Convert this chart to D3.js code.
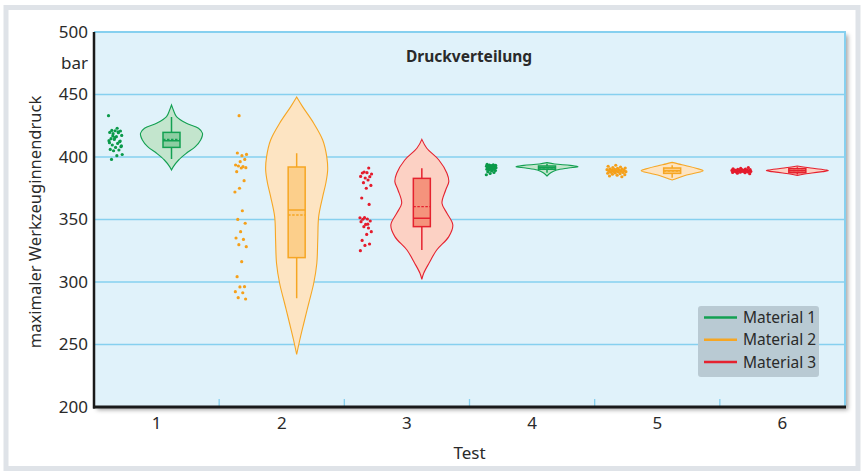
<!DOCTYPE html>
<html><head><meta charset="utf-8">
<script src="https://cdn.jsdelivr.net/npm/d3@7"></script>
<style>body{margin:0;background:#fff}svg{display:block;font-family:"Noto Sans",sans-serif}</style>
</head><body><svg id="c" width="862" height="471"></svg>
<script>
// ---------- data ----------
const tests = ["1","2","3","4","5","6"];
const materials = ["Material 1","Material 2","Material 3"];
const testMaterial = [0,1,2,0,1,2];
const yTicks = [200,250,300,350,400,450,475,500];
const yTickLabels = ["200","250","300","350","400","450","bar","500"];
const gridValues = [250,300,350,400,450];

const points1 = [433.1,423,421.3,420.8,421,419.7,419.5,418.7,417.3,416.3,414.7,412.3,414.1,413.1,410.9,409.6,408.3,407.7,406.1,405.6,405,402,401.1,398.1,412.8,415.5,411.5,420.2,416.9,408.9];
const points2 = [433.1,402.1,401.1,403.2,398.1,396.3,393.6,392.3,392.8,391.5,391.2,388.3,381.1,375,372,357,350.1,347,340.3,335.2,334.1,329.9,328.3,316.3,304.3,296.3,296.1,292.3,291.4,287.5,286.4];
const points3 = [391.2,388,386.4,387.5,387.2,384.3,383.2,384.5,381.6,379.5,377.3,375,367.2,362.1,351.5,351.4,350.4,350.2,348.8,346.1,348.3,343.2,344.3,340.3,338.1,333.3,330.4,329.3,325.1,346.3];
const points4 = [394.1,393.8,393.6,393.4,393.2,393.1,393.0,392.8,392.7,392.6,392.5,392.4,392.2,392.0,391.9,391.7,391.5,391.3,391.1,390.9,390.6,390.3,390.0,389.6,389.2,388.8,388.3,387.6,386.8,385.8];
const points5 = [393.4,392.6,392.0,391.6,391.2,390.9,390.6,390.3,390.1,389.9,389.7,389.5,389.3,389.1,388.9,388.7,388.5,388.3,388.1,387.9,387.6,387.3,387.0,386.7,386.3,385.9,385.4,384.8,384.2,389.0];
const points6 = [391.6,391.0,390.6,390.3,390.1,389.9,389.8,389.6,389.5,389.4,389.3,389.2,389.1,389.0,388.9,388.8,388.7,388.6,388.5,388.4,388.3,388.1,387.9,387.7,387.4,387.1,386.7,389.0,389.2,388.8];
const pointSets = [points1,points2,points3,points4,points5,points6];

// violin outlines: pressure levels and relative density (1 = widest)
const violinLevels1 = [441.6,437.6,432.3,427,423,419,413.6,408.3,403,397.6,392.3,389.6];
const violinDensity1 = [0,0.06,0.16,0.48,0.87,1,0.94,0.77,0.48,0.23,0.06,0];
const violinLevels2 = [448,440.3,427,413.6,400.3,389.6,379,368.3,352.3,333.6,315,299,283,267,253.6,242];
const violinDensity2 = [0,0.19,0.55,0.84,0.97,1,0.94,0.84,0.71,0.68,0.65,0.55,0.39,0.23,0.1,0];
const violinLevels3 = [414.1,407,397.6,387,380.3,373.6,363,355,345.6,336.3,325.6,315,307,302.1];
const violinDensity3 = [0,0.16,0.55,0.81,0.87,0.77,0.65,0.81,1,0.87,0.48,0.23,0.06,0];
const violinLevels4 = [395.5,394.4,393.3,392.3,391.2,389.6,387.4,384.8];
const violinDensity4 = [0,0.25,0.75,1,0.69,0.31,0.12,0];
const violinLevels5 = [395.7,394.5,393,391,389,387,385,383,381.6];
const violinDensity5 = [0,0.19,0.45,0.77,1,0.71,0.39,0.16,0];
const violinLevels6 = [392.8,391.8,390.8,389.5,389,388.3,387.2,386.2,385.3];
const violinDensity6 = [0,0.25,0.56,0.94,1,0.81,0.47,0.19,0];
const violinLevels = [violinLevels1,violinLevels2,violinLevels3,violinLevels4,violinLevels5,violinLevels6];
const violinDensity = [violinDensity1,violinDensity2,violinDensity3,violinDensity4,violinDensity5,violinDensity6];

// box statistics
const quartile1 = [407.7,319.5,344.3,390.2,386.9,387.4];
const medians   = [413,357.6,351,391.5,389,389];
const quartile3 = [419.7,392,382.9,392.8,391.2,390.7];
const means     = [414,353.6,360.3,391.3,388.8,389.2];
const whiskerLow  = [398.4,287,325.6,387.4,383.5,386];
const whiskerHigh = [432,403,391,394.4,393.5,391.8];

// ---------- styles ----------
const strokeColors = ["#13a052","#f6a623","#e5222f"];
const dotColors    = ["#0b9a4a","#f5a01a","#e41b2c"];
const violinFills  = ["#c3e5cd","#fde4c2","#fcd1c4"];
const boxFills     = ["#8ccea2","#fccf8b","#f5937c"];
const jitterWidth  = [14,12,12,10,20,20];

const svg = d3.select("#c");
const W = 862, H = 471;
const plot = {l:94, r:845, t:32, b:407};

const defs = svg.append("defs");
const f = defs.append("filter").attr("id","sh").attr("x","-5%").attr("y","-5%").attr("width","115%").attr("height","115%");
f.append("feDropShadow").attr("dx",3).attr("dy",3).attr("stdDeviation",2).attr("flood-color","#000").attr("flood-opacity",0.35);

// outer frame
svg.append("rect").attr("x",0).attr("y",0).attr("width",W).attr("height",H).attr("fill","#fff");
svg.append("rect").attr("x",6).attr("y",7.5).attr("width",852).attr("height",461)
  .attr("fill","none").attr("stroke","#dfe3e8").attr("stroke-width",5);

const x = d3.scaleBand().domain(tests).range([plot.l, plot.r]);
const sub = d3.scalePoint().domain(["points","violin"]).range([21.5, 77.5]);
const y = d3.scaleLinear().domain([200,500]).range([plot.b, plot.t]);
const wScale = d3.scaleLinear().domain([0,1]).range([0,31]);

// plot background
svg.append("rect").attr("x",plot.l).attr("y",plot.t).attr("width",plot.r-plot.l).attr("height",plot.b-plot.t)
  .attr("fill","#e0f2fa").attr("filter","url(#sh)");

// grid
svg.append("g").selectAll("line").data(gridValues).join("line")
  .attr("x1",plot.l).attr("x2",plot.r).attr("y1",d=>y(d)).attr("y2",d=>y(d))
  .attr("stroke","#86d0ef").attr("stroke-width",1.6);

// top/right border
svg.append("path").attr("d",`M${plot.l},${y(500)}H${plot.r}V${y(200)}`)
  .attr("fill","none").attr("stroke","#86d0ef").attr("stroke-width",2);

// boundary ticks
svg.append("g").selectAll("line").data(tests.slice(1)).join("line")
  .attr("x1",d=>x(d)).attr("x2",d=>x(d)).attr("y1",plot.b-8).attr("y2",plot.b)
  .attr("stroke","#86d0ef").attr("stroke-width",1.3);

// violins, boxes
const area = d3.area().curve(d3.curveCatmullRom.alpha(0.5));
tests.forEach((t,i)=>{
  const m = testMaterial[i];
  const cx = x(t) + sub("violin");
  const pts = violinLevels[i].map((v,k)=>({v, d:violinDensity[i][k]}));
  area.y(d=>y(d.v)).x0(d=>cx - wScale(d.d)).x1(d=>cx + wScale(d.d));
  svg.append("path").attr("d",area(pts)).attr("fill",violinFills[m]).attr("stroke",strokeColors[m]).attr("stroke-width",1.1);
  const g = svg.append("g");
  g.append("line").attr("x1",cx).attr("x2",cx).attr("y1",y(whiskerLow[i])).attr("y2",y(whiskerHigh[i]))
    .attr("stroke",strokeColors[m]).attr("stroke-width",1.5);
  g.append("rect").attr("x",cx-8.5).attr("width",17).attr("y",y(quartile3[i])).attr("height",y(quartile1[i])-y(quartile3[i]))
    .attr("fill",boxFills[m]).attr("stroke",strokeColors[m]).attr("stroke-width",1.5);
  g.append("line").attr("x1",cx-8.5).attr("x2",cx+8.5).attr("y1",y(medians[i])).attr("y2",y(medians[i]))
    .attr("stroke",strokeColors[m]).attr("stroke-width",1.5);
  g.append("line").attr("x1",cx-8.5).attr("x2",cx+8.5).attr("y1",y(means[i])).attr("y2",y(means[i]))
    .attr("stroke",strokeColors[m]).attr("stroke-width",1.3).attr("stroke-dasharray","2.5,1.5");
  // strip dots
  const px = x(t) + sub("points");
  svg.append("g").selectAll("circle").data(pointSets[i]).join("circle")
    .attr("cx",(d,k)=>px + (((k*0.6180339887 + i*0.37) % 1) - 0.5) * jitterWidth[i])
    .attr("cy",d=>y(d)).attr("r",1.6).attr("fill",dotColors[m]);
});

// axes lines
svg.append("line").attr("x1",plot.l).attr("x2",plot.l).attr("y1",plot.t).attr("y2",plot.b+1.5)
  .attr("stroke","#1a1a1a").attr("stroke-width",2.5);
svg.append("line").attr("x1",plot.l-1).attr("x2",plot.r+1).attr("y1",plot.b).attr("y2",plot.b)
  .attr("stroke","#1a1a1a").attr("stroke-width",3);

// y axis labels
const yAxis = d3.axisLeft(y).tickValues(yTicks).tickSize(0).tickPadding(6)
  .tickFormat(d=>yTickLabels[yTicks.indexOf(d)]);
const ya = svg.append("g").attr("transform",`translate(${plot.l},0)`).call(yAxis);
ya.select(".domain").remove();
ya.selectAll("text").attr("font-size",17).attr("fill","#2a2a2a").attr("font-family","'Noto Sans',sans-serif");

// x axis labels
const xAxis = d3.axisBottom(x).tickSize(0).tickPadding(10);
const xa = svg.append("g").attr("transform",`translate(0,${plot.b})`).call(xAxis);
xa.select(".domain").remove();
xa.selectAll("text").attr("font-size",17).attr("fill","#2a2a2a").attr("font-family","'Noto Sans',sans-serif");

// titles
svg.append("text").attr("x",(plot.l+plot.r)/2).attr("y",459).attr("text-anchor","middle")
  .attr("font-size",17).attr("fill","#2a2a2a").text("Test");
svg.append("text").attr("transform","translate(41,222) rotate(-90)").attr("text-anchor","middle")
  .attr("font-size",16.5).attr("fill","#2a2a2a").text("maximaler Werkzeuginnendruck");
svg.append("text").attr("x",469).attr("y",62).attr("text-anchor","middle")
  .attr("font-size",15.5).attr("font-weight","bold").attr("fill","#2a2a2a").text("Druckverteilung");

// legend
const lg = svg.append("g").attr("transform","translate(698,306)");
lg.append("rect").attr("width",121).attr("height",71).attr("rx",3).attr("fill","#b9cad3");
materials.forEach((mName,k)=>{
  const yy = 11.5 + k*22.3;
  lg.append("line").attr("x1",6).attr("x2",39).attr("y1",yy).attr("y2",yy)
    .attr("stroke",strokeColors[k]).attr("stroke-width",2.5);
  lg.append("text").attr("x",45).attr("y",yy).attr("dy","0.35em").attr("font-size",15.5)
    .attr("fill","#2a2a2a").text(mName);
});
</script></body></html>
